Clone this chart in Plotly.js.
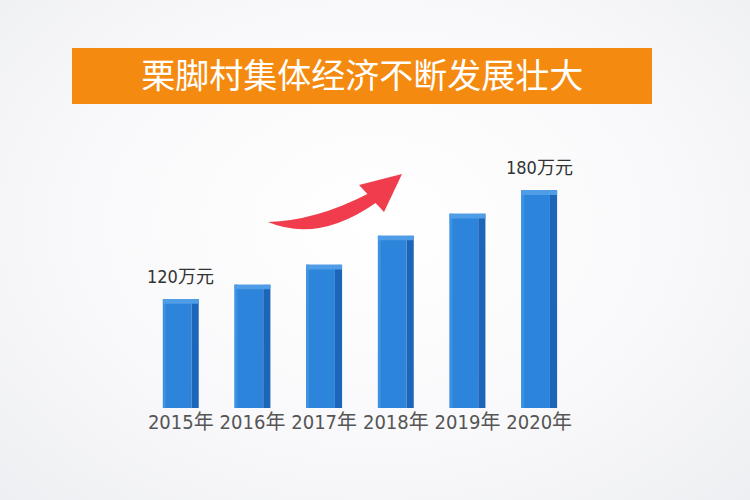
<!DOCTYPE html>
<html>
<head>
<meta charset="utf-8">
<script src="https://cdn.plot.ly/plotly-3.0.1.min.js"></script>
<style>
  html, body { margin: 0; padding: 0; }
  body { width: 750px; height: 500px; background: radial-gradient(ellipse at 50% 45%, #ffffff 0%, #f9f9fb 55%, #eeeff2 100%); }
  #chart { width: 750px; height: 500px; }
</style>
</head>
<body>
<div id="chart"></div>
<script>
// ---- data ----
const years = ["2015年", "2016年", "2017年", "2018年", "2019年", "2020年"];
const income = [120, 128, 139, 155, 167, 180];           // 万元 (estimated for middle years)
const valueLabels = ["120万元", "", "", "", "", "180万元"];
const titleText = "栗脚村集体经济不断发展壮大";

// ---- helpers for decorative shapes (pixel -> paper) ----
const W = 750, H = 500;
const px = (x, y) => (x / W).toFixed(4) + "," + (1 - y / H).toFixed(4);

const arrowPath =
  "M " + px(268, 222) +
  " Q " + px(318, 243) + " " + px(375.6, 202.9) +
  " L " + px(384, 212) +
  " L " + px(402, 174) +
  " L " + px(359, 185) +
  " L " + px(367.4, 194.1) +
  " Q " + px(315, 221) + " " + px(268, 222) + " Z";

const narrow = "Liberation Sans Narrow, DejaVu Sans Condensed, Noto Sans CJK SC, sans-serif";
const topH = 2.6;
const traces = [
  { // front face
    type: "bar", x: years, y: income, width: 0.4, offset: -0.25,
    marker: { color: "#2c85da" }, hoverinfo: "skip"
  },
  { // left highlight
    type: "bar", x: years, y: income, width: 0.04, offset: -0.25,
    marker: { color: "#3b91e2" }, hoverinfo: "skip"
  },
  { // right side face
    type: "bar", x: years, y: income, width: 0.1, offset: 0.15,
    marker: { color: "#1c65b8" }, hoverinfo: "skip"
  },
  { // top face
    type: "bar", x: years, y: income.map(() => topH), base: income.map(v => v - topH),
    width: 0.5, offset: -0.25,
    marker: { color: "#4f9de6" }, hoverinfo: "skip"
  }
];

const annotations = years.map((yr, i) => ({
  x: yr, y: income[i], xref: "x", yref: "y",
  text: valueLabels[i], showarrow: false,
  yanchor: "bottom", yshift: 10,
  font: { family: narrow, size: 18, color: "#333333" }
})).filter(a => a.text);

const layout = {
  width: 750, height: 500,
  margin: { l: 0, r: 0, t: 0, b: 0 },
  paper_bgcolor: "rgba(0,0,0,0)",
  plot_bgcolor: "rgba(0,0,0,0)",
  barmode: "overlay",
  showlegend: false,
  title: {
    text: titleText,
    x: 0.483, xanchor: "center",
    y: 0.848, yanchor: "middle",
    font: { family: "Noto Sans CJK SC, sans-serif", size: 34, color: "#ffffff" }
  },
  xaxis: {
    domain: [0.1933, 0.7667],
    range: [-0.5, 5.5],
    showgrid: false, zeroline: false, showline: false, ticks: "",
    tickangle: 0,
    tickfont: { family: narrow, size: 20, color: "#555555" },
    fixedrange: true
  },
  yaxis: {
    domain: [0.184, 0.692],
    range: [60, 200],
    visible: false, fixedrange: true
  },
  shapes: [
    {
      type: "rect", xref: "paper", yref: "paper",
      x0: 72 / W, x1: 652 / W, y0: 1 - 104 / H, y1: 1 - 48 / H,
      fillcolor: "#f58a10", line: { width: 0 }, layer: "below"
    },
    {
      type: "path", xref: "paper", yref: "paper",
      path: arrowPath, fillcolor: "#f03c4c", line: { width: 0 }
    }
  ],
  annotations: annotations
};

Plotly.newPlot("chart", traces, layout, { displayModeBar: false, staticPlot: true });
</script>
</body>
</html>
